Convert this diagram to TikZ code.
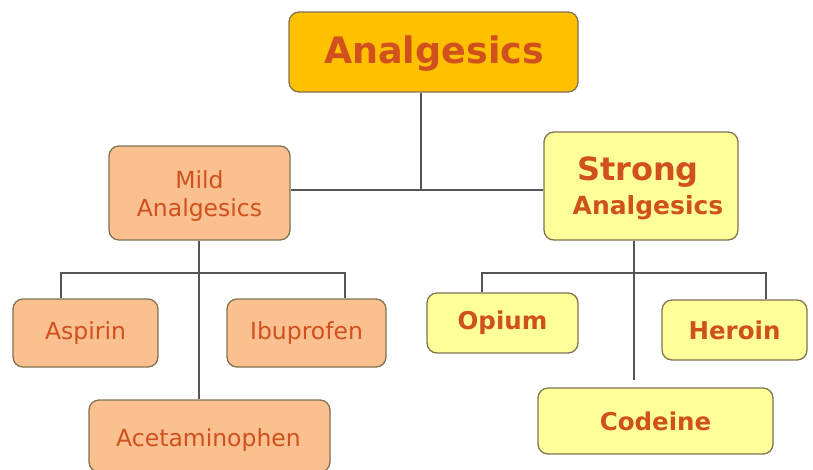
\documentclass[tikz,border=0pt]{standalone}
\usepackage{fontspec}
\setmainfont{DejaVu Sans}
\definecolor{txt}{RGB}{208,80,30}
\definecolor{gold}{RGB}{255,192,0}
\definecolor{peach}{RGB}{250,192,143}
\definecolor{lyellow}{RGB}{255,255,153}
\definecolor{bord}{RGB}{128,115,80}
\definecolor{conn}{RGB}{85,85,85}
\tikzset{
  box/.style={draw=bord, line width=1.3pt, rounded corners=10pt, text=txt, align=center, inner sep=0pt},
  mildbox/.style={box, fill=peach, font=\fontsize{23.5}{28}\selectfont},
  strongbox/.style={box, fill=lyellow, font=\bfseries\fontsize{24.5}{28}\selectfont},
  lbl/.style={text=txt, align=center, inner sep=0pt},
  wire/.style={draw=conn, line width=1.1pt}
}
\begin{document}
\begin{tikzpicture}[x=1pt,y=-1pt]
\useasboundingbox (0,0) rectangle (813,469);
% coordinates
\coordinate (j1) at (421,190);
\coordinate (m0) at (199,273);
\coordinate (ma) at (61,273);
\coordinate (mb) at (345,273);
\coordinate (s0) at (634,273);
\coordinate (sa) at (482,273);
\coordinate (sb) at (766,273);
\coordinate (sc) at (634,380);
% nodes
\node[box, fill=gold, minimum width=289pt, minimum height=80pt] (top) at (433.5,52) {};
\node[lbl, font=\bfseries\fontsize{36.5}{40}\selectfont] (topT) at (434,54) {Analgesics};
\node[box, fill=peach, minimum width=181pt, minimum height=94pt] (mild) at (199.5,193) {};
\node[lbl, font=\fontsize{23.5}{28}\selectfont] (mildT) at (199.5,196) {Mild\\[0pt]Analgesics};
\node[box, fill=lyellow, minimum width=194pt, minimum height=108pt] (strong) at (641,186) {};
\node[lbl, font=\bfseries\fontsize{32}{36}\selectfont] (strongA) at (638,172) {Strong};
\node[lbl, font=\bfseries\fontsize{25}{28}\selectfont] (strongB) at (648,208) {Analgesics};
\node[mildbox, minimum width=145pt, minimum height=68pt] (aspirin) at (85.5,333) {Aspirin};
\node[mildbox, minimum width=159pt, minimum height=68pt] (ibu) at (306.5,333) {Ibuprofen};
\node[mildbox, minimum width=241pt, minimum height=72pt] (acet) at (209.5,436) {};
\node[lbl, font=\fontsize{23.5}{28}\selectfont] (acetT) at (208.5,440) {Acetaminophen};
\node[strongbox, minimum width=151pt, minimum height=60pt] (opium) at (502.5,323) {Opium};
\node[strongbox, minimum width=145pt, minimum height=60pt] (heroin) at (734.5,330) {Heroin};
\node[strongbox, minimum width=235pt, minimum height=66pt] (codeine) at (655.5,421) {Codeine};
% connectors
\draw[wire] (top.south -| j1) -- (j1);
\draw[wire] (mild.east |- j1) -- (strong.west |- j1);
\draw[wire] (mild.south -| m0) -- (acet.north -| m0);
\draw[wire] (aspirin.north -| ma) -- (ma) -- (mb) -- (ibu.north -| mb);
\draw[wire] (strong.south -| s0) -- (sc);
\draw[wire] (opium.north -| sa) -- (sa) -- (sb) -- (heroin.north -| sb);
\end{tikzpicture}
\end{document}
